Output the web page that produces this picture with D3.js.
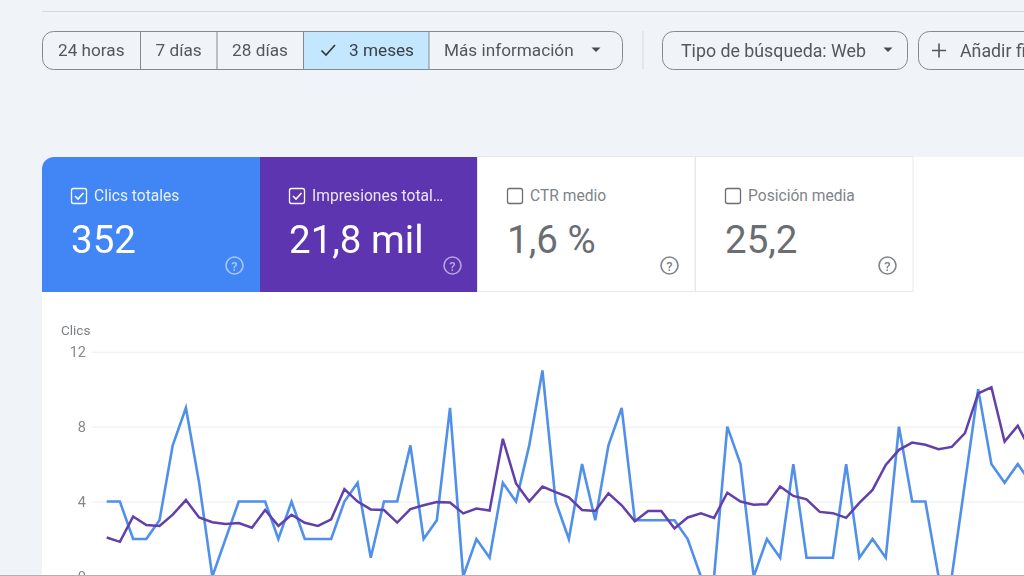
<!DOCTYPE html>
<html>
<head>
<meta charset="utf-8">
<script src="https://cdn.jsdelivr.net/npm/d3@7"></script>
<style>
  html, body { margin: 0; padding: 0; background: #f0f4f9; overflow: hidden; }
  svg { display: block; font-family: Roboto, sans-serif; filter: blur(.35px); }
</style>
</head>
<body>
<svg id="chart" width="1024" height="576"></svg>
<script>
// values
var clics = [4,4,2,2,3,7,9,5,0,2,4,4,4,2,4,2,2,2,4,5,1,4,4,7,2,3,9,0,2,1,5,4,7,11,4,2,6,3,7,9,3,3,3,3,2,0,0,8,6,0,2,1,6,1,1,1,6,1,2,1,8,4,4,0,0,5,10,6,5,6,5];
// impresiones have no visible axis, so they are kept in units of the clics axis
var impresiones = [2.08,1.85,3.2,2.75,2.7,3.3,4.08,3.15,2.9,2.8,2.85,2.6,3.55,2.7,3.3,2.87,2.7,3.05,4.67,4,3.58,3.55,2.88,3.6,3.8,3.97,3.95,3.37,3.63,3.52,7.35,4.97,4,4.8,4.5,4.22,3.55,3.5,4.44,3.8,2.95,3.5,3.5,2.56,3.15,3.37,3.13,4.47,4,3.83,3.86,4.8,4.3,4.12,3.45,3.38,3.13,3.93,4.62,5.96,6.76,7.15,7.03,6.8,6.92,7.65,9.77,10.1,7.2,8.05,6.67];
var yTicks = [0,4,8,12];
var rangeLabels = ["24 horas","7 días","28 días","3 meses","Más información"];
var metricLabels = ["Clics totales","Impresiones total…","CTR medio","Posición media"];
var metricValues = ["352","21,8 mil","1,6 %","25,2"];

var svg = d3.select("#chart");
var border = "#85898d", btnInk = "#53575b";

svg.append("line").attr("x1",42).attr("x2",1024).attr("y1",11.5).attr("y2",11.5).attr("stroke","#d5d8dc");

// --- filter buttons ---
var edges = [42,140.5,217,303.5,429,623];
var btnTop = 31.5, btnH = 38;
var clipBtn = svg.append("defs").append("clipPath").attr("id","btnClip");
clipBtn.append("rect").attr("x",42.5).attr("y",btnTop).attr("width",580).attr("height",btnH).attr("rx",11);
var btns = svg.append("g").attr("clip-path","url(#btnClip)");
btns.append("rect").attr("x",edges[3]).attr("y",btnTop).attr("width",edges[4]-edges[3]).attr("height",btnH).attr("fill","#c2e7ff");
svg.append("rect").attr("x",42.5).attr("y",btnTop).attr("width",580).attr("height",btnH).attr("rx",11).attr("fill","none").attr("stroke",border);
edges.slice(1,5).forEach(function(x){
  svg.append("line").attr("x1",x).attr("x2",x).attr("y1",btnTop).attr("y2",btnTop+btnH).attr("stroke",border);
});
var btnText = [91.3,178.6,260,381.5,444];
rangeLabels.forEach(function(t,i){
  svg.append("text").attr("x",btnText[i]).attr("y",55.5)
    .attr("text-anchor", i==4 ? "start" : "middle")
    .attr("font-size",17.2)
    .attr("fill", i==3 ? "#3c4043" : btnInk).text(t);
});
svg.append("path").attr("d","M321.500 50.500l4.500 4.500l9 -10").attr("fill","none").attr("stroke","#303438").attr("stroke-width",1.6);

function caret(x){
  svg.append("path").attr("d","M"+(x-4.5)+" 47.500h9l-4.500 4.500z").attr("fill","#484c50");
}
caret(596);
svg.append("line").attr("x1",643).attr("x2",643).attr("y1",31).attr("y2",69).attr("stroke","#d5d8dc");

svg.append("rect").attr("x",662.5).attr("y",btnTop).attr("width",245).attr("height",btnH).attr("rx",11).attr("fill","none").attr("stroke",border);
svg.append("text").attr("x",681).attr("y",56.500).attr("font-size",17.8).attr("fill",btnInk).text("Tipo de búsqueda: Web");
caret(888);
svg.append("rect").attr("x",918.5).attr("y",btnTop).attr("width",160).attr("height",btnH).attr("rx",11).attr("fill","none").attr("stroke",border);
svg.append("path").attr("d","M932 50.500h14M939 43.500v14").attr("stroke",btnInk).attr("stroke-width",1.6);
svg.append("text").attr("x",960).attr("y",56.500).attr("font-size",17.8).attr("fill",btnInk).text("Añadir filtro");

// --- panel and metric cards ---
svg.append("path").attr("d","M42 576V169a12 12 0 0 1 12 -12H1024V576Z").attr("fill","#fff");
var cardX = [42,260,477,695], cardW = [218,217,218,218];
var cardFill = ["#4285f4","#5e35b1",null,null];
cardX.forEach(function(x,i){
  var on = i<2, col = on ? "#fff" : "#6a6e72", g = svg.append("g");
  if (i==0) g.append("path").attr("d","M42 292V169a12 12 0 0 1 12 -12H260V292Z").attr("fill",cardFill[i]);
  else if (i==1) g.append("rect").attr("x",x).attr("y",157).attr("width",cardW[i]).attr("height",135).attr("fill",cardFill[i]);
  else g.append("rect").attr("x",x+.5).attr("y",156.5).attr("width",cardW[i]-.5).attr("height",135).attr("fill","#fff").attr("stroke","#e6e8ea");

  var ix = x + (on ? 29 : 30);
  g.append("rect").attr("x",ix+.5).attr("y",188.500).attr("width",15).attr("height",15).attr("rx",2).attr("fill","none").attr("stroke",col).attr("stroke-width",1.3);
  if (on) g.append("path").attr("d","M"+(ix+4)+" 196l3 3l5.500 -6").attr("fill","none").attr("stroke",col).attr("stroke-width",1.6);
  g.append("text").attr("x",x+(on ? 52 : 53)).attr("y",201).attr("font-size",15.6).attr("fill",on ? "#fff" : "#80848a").attr("opacity",on ? .88 : 1).text(metricLabels[i]);
  g.append("text").attr("x",ix).attr("y",253).attr("font-size",38.5).attr("fill",col).text(metricValues[i]);
  var qx = x + 192.500;
  g.append("circle").attr("cx",qx).attr("cy",265.500).attr("r",8.500).attr("fill","none").attr("stroke",col).attr("stroke-width",1.6).attr("opacity",on ? .55 : .85);
  g.append("text").attr("x",qx).attr("y",270.500).attr("text-anchor","middle").attr("font-size",13).attr("font-weight",500).attr("fill",col).attr("opacity",on ? .55 : .85).text("?");
});

// --- line chart ---
var x = d3.scaleLinear().domain([0,70]).range([106.7,1031]);
var y = d3.scaleLinear().domain([0,12]).range([576.5,351.700]);

var axis = svg.append("g").attr("transform","translate(92,0)")
  .call(d3.axisLeft(y).tickValues(yTicks).tickSize(-940).tickPadding(6));
axis.select(".domain").remove();
axis.selectAll(".tick line").attr("stroke","#ecedef");
axis.selectAll("text").attr("font-family","Roboto, sans-serif").attr("font-size",14.5).attr("fill","#85898d");

svg.append("text").attr("x",61).attr("y",335).attr("font-size",13.500).attr("fill","#7c8085").text("Clics");

var line = d3.line().x(function(d,i){ return x(i); }).y(function(d){ return y(d); });
svg.append("path").datum(clics).attr("d",line).attr("fill","none").attr("stroke","#5090ea").attr("stroke-width",2.6);
svg.append("path").datum(impresiones).attr("d",line).attr("fill","none").attr("stroke","#6140ac").attr("stroke-width",2.5);

svg.append("line").attr("x1",0).attr("x2",1024).attr("y1",575.500).attr("y2",575.500).attr("stroke","#aeb2b7");
</script>
</body>
</html>
